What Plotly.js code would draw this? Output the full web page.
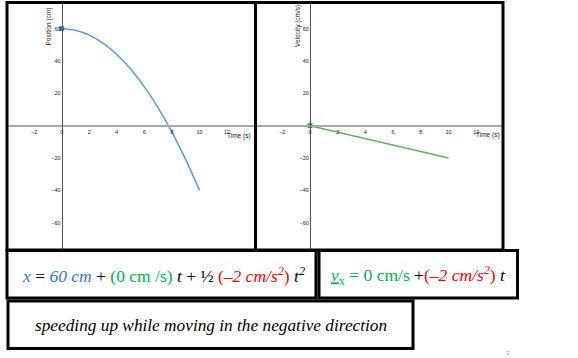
<!DOCTYPE html>
<html>
<head>
<meta charset="utf-8">
<script src="https://cdn.plot.ly/plotly-3.0.1.min.js"></script>
<style>html,body{margin:0;padding:0;background:#fff;}#chart{width:578px;height:358px;}</style>
</head>
<body>
<div id="chart"></div>
<script>
// ---- data ----
var timeS = [0, 1, 2, 3, 4, 5, 6, 7, 8, 9, 10];
var positionCm = [60, 59, 56, 51, 44, 35, 24, 11, -4, -21, -40];
var velTimeS = [0, 10];
var velocityCmS = [0, -20];
var startT = [0];
var startPos = [60];
var startVel = [0];
var xTicks = [-2, 0, 2, 4, 6, 8, 10, 12];
var yTicks = [-60, -40, -20, 20, 40, 60];

// ---- layout helpers (pixel -> paper) ----
var W = 578, H = 358;
function px(x) { return x / W; }
function py(y) { return 1 - y / H; }

var tickFont = {family: 'Liberation Sans, Arial, sans-serif', size: 5.5, color: '#222'};

function xAx(l, r, zeroPx, scale) {
  return {
    domain: [px(l), px(r)],
    range: [(l - zeroPx) / scale, (r - zeroPx) / scale],
    anchor: 'free', position: py(126),
    showline: true, linecolor: '#a8a8a8', linewidth: 2,
    showgrid: false, zeroline: false,
    tickmode: 'array', tickvals: xTicks, ticks: '', tickfont: tickFont,
    fixedrange: true
  };
}
function yAx(zeroXpx) {
  return {
    domain: [py(249), py(4)],
    range: [(125.7 - 249) / 1.617, (125.7 - 4) / 1.617],
    anchor: 'free', position: px(zeroXpx),
    showline: true, linecolor: '#555', linewidth: 1,
    showgrid: false, zeroline: false,
    tickmode: 'array', tickvals: yTicks, ticks: '', tickfont: tickFont,
    fixedrange: true
  };
}

var blue = '#5b9bd5', green = '#62b062';

var traces = [
  {x: timeS, y: positionCm, xaxis: 'x', yaxis: 'y', mode: 'lines',
   line: {color: blue, width: 1.5, shape: 'spline'}, hoverinfo: 'skip'},
  {x: startT, y: startPos, xaxis: 'x', yaxis: 'y', mode: 'markers',
   marker: {color: '#2f78c4', size: 5, symbol: 'square'}, hoverinfo: 'skip'},
  {x: velTimeS, y: velocityCmS, xaxis: 'x2', yaxis: 'y2', mode: 'lines',
   line: {color: green, width: 1.5}, hoverinfo: 'skip'},
  {x: startT, y: startVel, xaxis: 'x2', yaxis: 'y2', mode: 'markers',
   marker: {color: '#2e9b3e', size: 5, symbol: 'square'}, hoverinfo: 'skip'}
];

var serif = 'Liberation Serif, Times New Roman, serif';
var sans = 'Liberation Sans, Arial, sans-serif';
var cBlue = '#2f7bd0', cGreen = '#00b050', cRed = '#ff0000';

function rect(x0, y0, x1, y1, w) {
  return {type: 'rect', xref: 'paper', yref: 'paper',
    x0: px(x0), x1: px(x1), y0: py(y1), y1: py(y0),
    line: {color: '#000', width: w}, fillcolor: 'rgba(0,0,0,0)'};
}
function ann(x, y, text, font, extra) {
  var a = {xref: 'paper', yref: 'paper', x: px(x), y: py(y), text: text, showarrow: false,
    xanchor: 'center', yanchor: 'middle', font: font, borderpad: 0};
  for (var k in (extra || {})) a[k] = extra[k];
  return a;
}

var eq1 = '<span style="color:' + cBlue + '"><i>x</i></span> = <span style="color:' + cBlue + '"><i>60 cm</i></span> + ' +
  '<span style="color:' + cGreen + '">(0 cm /s)</span> <i>t</i> + ½ ' +
  '<span style="color:' + cRed + '">(<i>–2 cm/s<sup>2</sup></i>)</span> <i>t<sup>2</sup></i>';
var eq2 = '<span style="color:' + cGreen + '"><u><i>v</i></u><sub>x</sub> = 0 cm/s</span> +' +
  '<span style="color:' + cRed + '">(<i>–2 cm/s<sup>2</sup></i>)</span> <i>t</i>';

var layout = {
  width: W, height: H,
  margin: {l: 0, r: 0, t: 0, b: 0},
  paper_bgcolor: '#fff', plot_bgcolor: '#fff',
  showlegend: false,
  xaxis: xAx(8, 254, 61.7, 13.78),
  yaxis: yAx(61.7),
  xaxis2: xAx(257, 502, 310, 13.85),
  yaxis2: yAx(310),
  shapes: [
    rect(7, 2.5, 255.5, 250, 3),
    rect(255.5, 2.5, 503, 250, 3),
    rect(7, 250.5, 316, 298, 3),
    rect(319, 250.5, 517.5, 298, 3),
    rect(8, 301, 413, 348.5, 3)
  ],
  annotations: [
    ann(239, 135.5, 'Time (s)', {family: sans, size: 6.5, color: '#222'}),
    ann(487.5, 134.5, 'Time (s)', {family: sans, size: 6.5, color: '#222'}),
    ann(48.5, 27, 'Position (cm)', {family: sans, size: 6.5, color: '#222'}, {textangle: -90}),
    ann(298, 26, 'Velocity (cm/s)', {family: sans, size: 6.5, color: '#222'}, {textangle: -90}),
    ann(163.5, 275, eq1, {family: serif, size: 17.5, color: '#000'}),
    ann(418.5, 275, eq2, {family: serif, size: 17.5, color: '#000'}),
    ann(211, 325, '<i>speeding up while moving in the negative direction</i>', {family: serif, size: 17.3, color: '#000'}),
    ann(508, 353, '3', {family: sans, size: 6, color: '#999'})
  ]
};

Plotly.newPlot('chart', traces, layout, {staticPlot: true, displayModeBar: false});
</script>
</body>
</html>
